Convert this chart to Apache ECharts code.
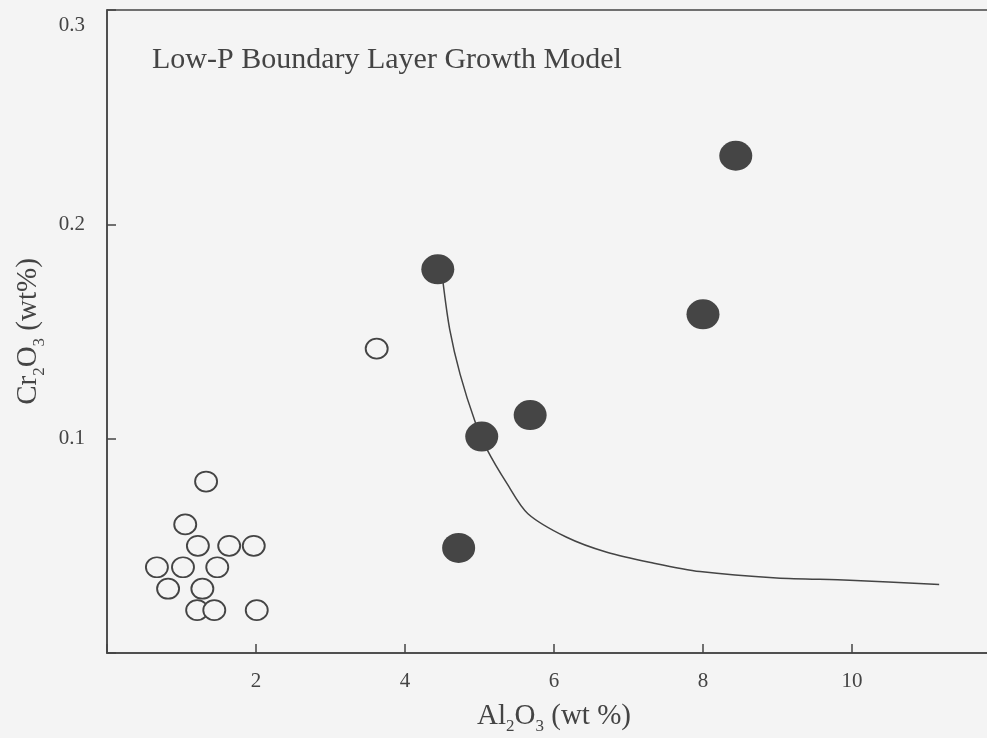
<!DOCTYPE html>
<html>
<head>
<meta charset="utf-8">
<script src="https://cdn.jsdelivr.net/npm/echarts@6/dist/echarts.min.js"></script>
<style>
	html, body { margin: 0; padding: 0; background: #f4f4f4; }
	#chart { width: 987px; height: 738px; }
</style>
</head>
<body>
<div id="chart"></div>
<script>
// open circles: [Al2O3, Cr2O3]
var openPoints = [
	[1.33, 0.08], [1.05, 0.06], [1.22, 0.05], [1.64, 0.05], [1.97, 0.05],
	[0.67, 0.04], [1.02, 0.04], [1.48, 0.04], [0.82, 0.03], [1.28, 0.03],
	[1.21, 0.02], [1.44, 0.02], [2.01, 0.02], [3.62, 0.142]
];
// filled circles
var filledPoints = [
	[8.44, 0.232], [4.44, 0.179], [8.0, 0.158], [5.68, 0.111], [5.03, 0.101], [4.72, 0.049]
];
// model curve
var modelCurve = [
	[4.51, 0.173], [4.60, 0.151], [4.74, 0.130], [4.94, 0.108], [5.10, 0.095],
	[5.37, 0.079], [5.65, 0.065], [6.17, 0.054], [6.71, 0.047], [7.33, 0.042],
	[7.96, 0.038], [8.99, 0.035], [9.97, 0.034], [11.17, 0.032]
];
var xTicks = [2, 4, 6, 8, 10];
var yTicks = [0.1, 0.2, 0.3];

var ink = "#444";
var serif = "'Liberation Serif', 'DejaVu Serif', serif";

// rich styles for chemical formula subscripts
var formulaRich = {
	a: { fontFamily: serif, fontSize: 29, color: ink, lineHeight: 34 },
	s: { fontFamily: serif, fontSize: 17, color: ink, lineHeight: 34, verticalAlign: "bottom", padding: [0, 0, -2, 0] }
};

var mychart = echarts.init(document.getElementById("chart"));
var option = {
	backgroundColor: "#f4f4f4",
	animation: false,
	title: {
		text: "Low-P Boundary Layer Growth Model",
		left: 147,
		top: 40,
		textStyle: { fontFamily: serif, fontWeight: "normal", fontSize: 30, color: ink }
	},
	grid: {
		left: 107, right: -14, top: 10, bottom: 85,
		outerBoundsMode: "none",
		containLabel: false,
		show: true, borderColor: ink, borderWidth: 1.5, backgroundColor: "transparent"
	},
	xAxis: {
		type: "value", min: 0, max: 12, interval: 2,
		name: "{a|Al}{s|2}{a|O}{s|3}{a| (wt %)}",
		nameLocation: "middle", nameGap: 46,
		nameTextStyle: { rich: formulaRich },
		splitLine: { show: false },
		axisLine: { lineStyle: { color: ink, width: 1.5 } },
		axisTick: { inside: true, length: 9, lineStyle: { color: ink, width: 1.5 } },
		axisLabel: {
			margin: 18, fontFamily: serif, fontSize: 21, color: ink,
			formatter: v => xTicks.indexOf(v) >= 0 ? String(v) : ""
		}
	},
	yAxis: {
		type: "value", min: 0, max: 0.3, interval: 0.1,
		name: "{a|Cr}{s|2}{a|O}{s|3}{a| (wt%)}",
		nameLocation: "middle", nameGap: 60, nameRotate: 90,
		nameTextStyle: { rich: formulaRich },
		splitLine: { show: false },
		axisLine: { lineStyle: { color: ink, width: 1.5 } },
		axisTick: { inside: true, length: 9, lineStyle: { color: ink, width: 1.5 } },
		axisLabel: {
			margin: 22, fontFamily: serif, fontSize: 21, color: ink,
			formatter: v => {
				if (Math.abs(v - 0.3) < 1e-9) return "{top|0.3}";
				return yTicks.some(t => Math.abs(t - v) < 1e-9) ? v.toFixed(1) : "";
			},
			rich: {
				top: { fontFamily: serif, fontSize: 21, color: ink, padding: [30, 0, 0, 0] }
			}
		}
	},
	series: [
		{
			name: "model",
			type: "line",
			data: modelCurve,
			smooth: 0.3,
			showSymbol: false,
			lineStyle: { color: ink, width: 1.5 },
			z: 2
		},
		{
			name: "open",
			type: "scatter",
			data: openPoints,
			symbol: "circle",
			symbolSize: [22, 20],
			itemStyle: { color: "#f4f4f4", borderColor: ink, borderWidth: 1.8, opacity: 1 },
			z: 3
		},
		{
			name: "filled",
			type: "scatter",
			data: filledPoints,
			symbol: "circle",
			symbolSize: [33, 30],
			itemStyle: { color: "#454545", opacity: 1 },
			z: 4
		}
	]
};
mychart.setOption(option);
</script>
</body>
</html>
